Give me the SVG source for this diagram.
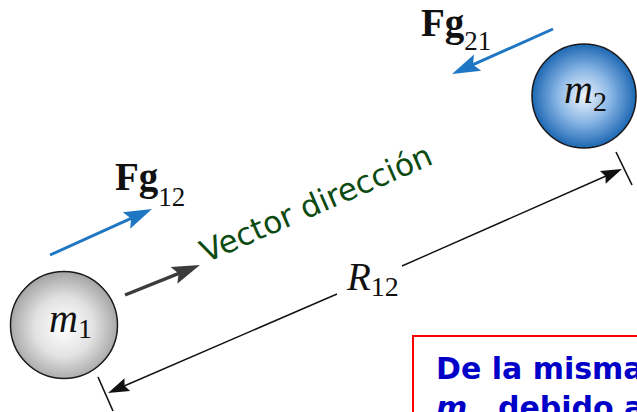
<svg xmlns="http://www.w3.org/2000/svg" width="637" height="412" viewBox="0 0 637 412">
<style>
.serif{font-family:"Liberation Serif","Times New Roman",serif;fill:#111}
.bold{font-weight:bold}
.ital{font-style:italic}
.blue{stroke:#1f76c2;stroke-width:3;fill:none}
.gray{stroke:#3c3c3c;stroke-width:3.5;fill:none}
.dim{stroke:#111;stroke-width:1.4;fill:none}
.tick{stroke:#111;stroke-width:1.6}
.note{font-family:"DejaVu Sans",Verdana,sans-serif;font-weight:bold;font-size:30px;fill:#0000c8}
</style>
<defs>
<radialGradient id="gGray" cx="0.5" cy="0.52" r="0.5">
<stop offset="0" stop-color="#ffffff"/>
<stop offset="0.55" stop-color="#e2e2e2"/>
<stop offset="1" stop-color="#a8a8a8"/>
</radialGradient>
<radialGradient id="gBlue" cx="0.5" cy="0.5" r="0.5">
<stop offset="0" stop-color="#eef4fb"/>
<stop offset="0.5" stop-color="#8cb8e6"/>
<stop offset="1" stop-color="#1e68b4"/>
</radialGradient>
<marker id="aBlue" viewBox="-10 -10 32 20" refX="0" refY="0" markerWidth="32" markerHeight="20" markerUnits="userSpaceOnUse" orient="auto">
<path d="M20,0 L-8,-9 L-3,0 L-8,9 Z" fill="#1f76c2"/>
</marker>
<marker id="aGray" viewBox="-10 -10 32 20" refX="0" refY="0" markerWidth="32" markerHeight="20" markerUnits="userSpaceOnUse" orient="auto">
<path d="M20,0 L-8,-9 L-3,0 L-8,9 Z" fill="#3c3c3c"/>
</marker>
<marker id="aBlack" viewBox="-10 -10 30 20" refX="0" refY="0" markerWidth="30" markerHeight="20" markerUnits="userSpaceOnUse" orient="auto">
<path d="M15,0 L-6,-7 L-3,0 L-6,7 Z" fill="#111"/>
</marker>
</defs>
<rect width="637" height="412" fill="#ffffff"/>

<g id="connectors">
<line class="blue" x1="50" y1="255" x2="133.8" y2="217.2" marker-end="url(#aBlue)"/>
<line class="blue" x1="553" y1="29" x2="470.3" y2="65.9" marker-end="url(#aBlue)"/>
<line class="gray" x1="125" y1="295" x2="181.4" y2="272.4" marker-end="url(#aGray)"/>
<line class="dim" x1="337" y1="294" x2="121.8" y2="387" marker-end="url(#aBlack)"/>
<line class="dim" x1="402" y1="266" x2="608.3" y2="175" marker-end="url(#aBlack)"/>
<line class="tick" x1="98" y1="377" x2="113" y2="411"/>
<line class="tick" x1="616" y1="152" x2="632" y2="185"/>
</g>

<g id="m1">
<circle cx="64" cy="325" r="53.5" fill="url(#gGray)" stroke="#1a1a1a" stroke-width="1.5"/>
<text class="serif ital" x="49" y="332" font-size="40">m<tspan font-size="28" font-style="normal" dy="6">1</tspan></text>
</g>

<g id="m2">
<circle cx="584" cy="96" r="52" fill="url(#gBlue)" stroke="#1a1a1a" stroke-width="1.5"/>
<text class="serif ital" x="564" y="103" font-size="40">m<tspan font-size="28" font-style="normal" dy="8">2</tspan></text>
</g>

<g id="fg12">
<text class="serif bold" x="115" y="190" font-size="39">F<tspan>g</tspan><tspan font-size="27" font-weight="normal" dy="16">12</tspan></text>
</g>

<g id="fg21">
<text class="serif bold" x="421" y="36" font-size="39">F<tspan>g</tspan><tspan font-size="27" font-weight="normal" dy="14">21</tspan></text>
</g>

<g id="vector-label">
<text x="0" y="0" transform="translate(206,263) rotate(-23.55)" font-family="'DejaVu Sans',Verdana,sans-serif" font-size="31" fill="#0b4a10">Vector dirección</text>
</g>

<g id="r12">
<text class="serif ital" x="347" y="290" font-size="39">R<tspan font-size="28" font-style="normal" dy="6">12</tspan></text>
</g>

<g id="note">
<rect x="413" y="336" width="240" height="100" fill="#ffffff" stroke="#ff0000" stroke-width="2"/>
<text class="note" x="436" y="379">De la misma</text>
<text class="note" x="436" y="418" font-style="italic">m</text>
<text class="note" x="498" y="418">debido a</text>
</g>
</svg>
